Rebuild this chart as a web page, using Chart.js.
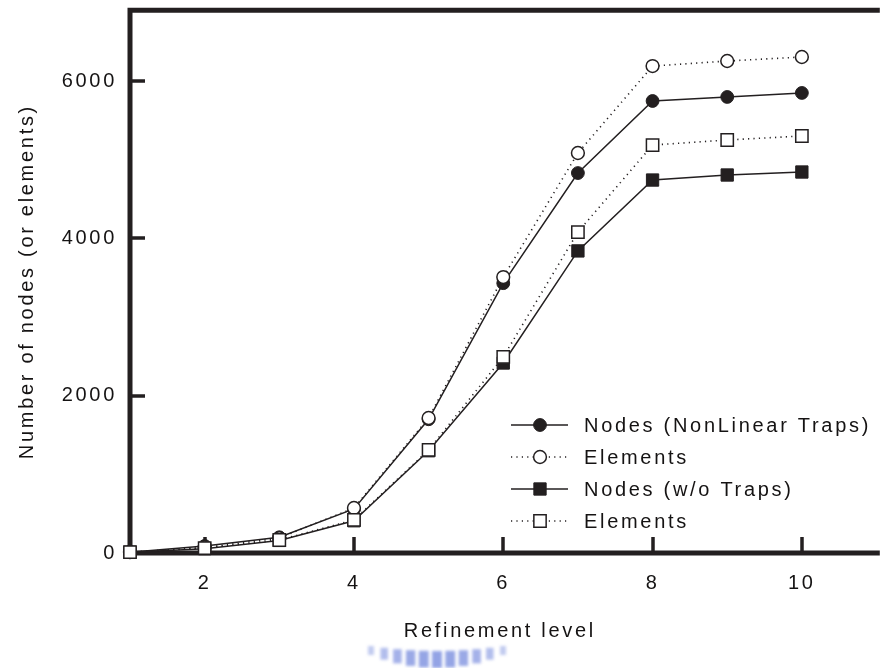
<!DOCTYPE html>
<html>
<head>
<meta charset="utf-8">
<script src="https://cdn.jsdelivr.net/npm/chart.js@4/dist/chart.umd.min.js"></script>
<style>
  html, body { margin: 0; padding: 0; background: #fff; overflow: hidden; }
  #wrap { width: 880px; height: 668px; }
</style>
</head>
<body>
<div id="wrap"><canvas id="c" width="880" height="668"></canvas></div>
<script>
// Mesh size per refinement level
const levels = [1, 2, 3, 4, 5, 6, 7, 8, 9, 10];
const nodesNonLinear    = [10, 90, 200, 560, 1700, 3430, 4830, 5746, 5797, 5848];
const elementsNonLinear = [10, 70, 190, 572, 1716, 3508, 5085, 6190, 6254, 6305];
const nodesNoTraps      = [10, 55, 160, 410, 1300, 2415, 3840, 4741, 4805, 4843];
const elementsNoTraps   = [10, 63, 165, 420, 1310, 2492, 4080, 5186, 5250, 5301];
const seriesLabels = ['Nodes (NonLinear Traps)', 'Elements', 'Nodes (w/o Traps)', 'Elements'];
const xTicks = [2, 4, 6, 8, 10];
const yTicks = [0, 2000, 4000, 6000];
const xTitle = 'Refinement level';
const yTitle = 'Number of nodes (or elements)';

const INK = '#231f20';
const TEXT = '#151313';
const FONT = { family: "'Liberation Sans', Arial, Helvetica, sans-serif", size: 20 };
const SPACING = '2.7px';

const toPoints = vals => levels.map((lv, i) => ({ x: lv, y: vals[i] }));

function series(label, vals, style, filled, dotted, order) {
  const isRect = style === 'rect';
  return {
    label,
    data: toPoints(vals),
    borderColor: INK,
    borderWidth: dotted ? 1.6 : 1.5,
    borderDash: dotted ? [1.2, 4.2] : [],
    tension: 0,
    pointStyle: style,
    pointRadius: isRect ? 8.7 : 6.4,
    pointBorderWidth: filled ? 1 : 1.5,
    pointBorderColor: INK,
    pointBackgroundColor: filled ? INK : '#ffffff',
    clip: false,
    order
  };
}

const datasets = [
  series(seriesLabels[0], nodesNonLinear, 'circle', true, false, 3),
  series(seriesLabels[1], elementsNonLinear, 'circle', false, true, 1),
  series(seriesLabels[2], nodesNoTraps, 'rect', true, false, 2),
  series(seriesLabels[3], elementsNoTraps, 'rect', false, true, 0)
];

// Wider tracking for every piece of text on the canvas
const tracking = {
  id: 'tracking',
  beforeDraw(chart) { chart.ctx.letterSpacing = SPACING; }
};

// Heavy box lines and inward tick marks
const frame = {
  id: 'frame',
  beforeDatasetsDraw(chart) {
    const { ctx, chartArea: { left, top, right, bottom }, scales: { x, y } } = chart;
    ctx.save();
    ctx.strokeStyle = INK;
    ctx.lineJoin = 'miter';
    ctx.lineCap = 'butt';
    ctx.lineWidth = 5;
    ctx.beginPath();
    ctx.moveTo(right + 10, top);
    ctx.lineTo(left, top);
    ctx.lineTo(left, bottom);
    ctx.lineTo(right + 10, bottom);
    ctx.stroke();
    ctx.lineWidth = 3.5;
    ctx.beginPath();
    xTicks.forEach(v => {
      const px = Math.round(x.getPixelForValue(v));
      ctx.moveTo(px, bottom);
      ctx.lineTo(px, bottom - 16);
    });
    yTicks.forEach(v => {
      if (v === 0) return;
      const py = Math.round(y.getPixelForValue(v));
      ctx.moveTo(left, py);
      ctx.lineTo(left + 15, py);
    });
    ctx.stroke();
    ctx.restore();
  }
};

// Legend drawn inside the plot, lower right
const legendBox = {
  id: 'legendBox',
  afterDatasetsDraw(chart) {
    const { ctx } = chart;
    const rows = [425, 457, 489, 521];
    const x0 = 511, x1 = 568, xm = 540, xt = 584;
    ctx.save();
    chart.data.datasets.forEach((ds, i) => {
      const yRow = rows[i];
      ctx.strokeStyle = ds.borderColor;
      ctx.lineWidth = ds.borderWidth;
      ctx.setLineDash(ds.borderDash);
      ctx.beginPath();
      ctx.moveTo(x0, yRow);
      ctx.lineTo(x1, yRow);
      ctx.stroke();
      ctx.setLineDash([]);
      ctx.fillStyle = ds.pointBackgroundColor;
      ctx.strokeStyle = ds.pointBorderColor;
      ctx.lineWidth = ds.pointBorderWidth;
      Chart.helpers.drawPoint(ctx, {
        pointStyle: ds.pointStyle,
        radius: ds.pointRadius,
        borderWidth: ds.pointBorderWidth,
        rotation: 0
      }, xm, yRow);
      ctx.letterSpacing = SPACING;
      ctx.font = `${FONT.size}px ${FONT.family}`;
      ctx.fillStyle = TEXT;
      ctx.textAlign = 'left';
      ctx.textBaseline = 'middle';
      ctx.fillText(ds.label, xt, yRow + 1);
    });
    ctx.restore();
  }
};

// Faint blue emblem under the axis title
const emblem = {
  id: 'emblem',
  afterDraw(chart) {
    const { ctx } = chart;
    ctx.save();
    ctx.filter = 'blur(1.5px)';
    const cx = 437, half = 66, n = 11;
    for (let i = 0; i < n; i++) {
      const bx = cx - half + (2 * half) * i / (n - 1);
      const t = (bx - cx) / half;
      const k = 1 - t * t;
      const topY = 646 + 5 * k;
      const botY = 655 + 13 * k;
      const w = 6 + 4 * k;
      ctx.fillStyle = `rgba(120, 140, 222, ${0.45 + 0.35 * k})`;
      ctx.fillRect(bx - w / 2, topY, w, botY - topY);
    }
    ctx.restore();
  }
};

new Chart(document.getElementById('c'), {
  type: 'line',
  data: { datasets },
  options: {
    responsive: false,
    animation: false,
    devicePixelRatio: 1,
    layout: { padding: { top: 9, right: 0, bottom: 0, left: 0 } },
    plugins: { legend: { display: false }, tooltip: { enabled: false } },
    scales: {
      x: {
        type: 'linear',
        min: 1,
        max: 10.91,
        afterBuildTicks: s => { s.ticks = xTicks.map(v => ({ value: v })); },
        afterFit: s => { s.height = 115; s.paddingLeft = 0; s.paddingRight = 0; },
        grid: { display: false, drawTicks: false },
        border: { display: false },
        ticks: { color: TEXT, font: FONT, padding: 18, maxRotation: 0, autoSkip: false },
        title: { display: true, text: xTitle, color: TEXT, font: FONT, padding: { top: 0, bottom: 25 } }
      },
      y: {
        type: 'linear',
        min: 0,
        max: 6900,
        afterBuildTicks: s => { s.ticks = yTicks.map(v => ({ value: v })); },
        afterFit: s => { s.width = 130; s.paddingTop = 0; s.paddingBottom = 0; },
        grid: { display: false, drawTicks: false },
        border: { display: false },
        ticks: { color: TEXT, font: FONT, padding: 13, callback: v => String(v) },
        title: { display: true, text: yTitle, color: TEXT, font: FONT, padding: { top: 15, bottom: 0 } }
      }
    }
  },
  plugins: [tracking, frame, legendBox, emblem]
});
</script>
</body>
</html>
